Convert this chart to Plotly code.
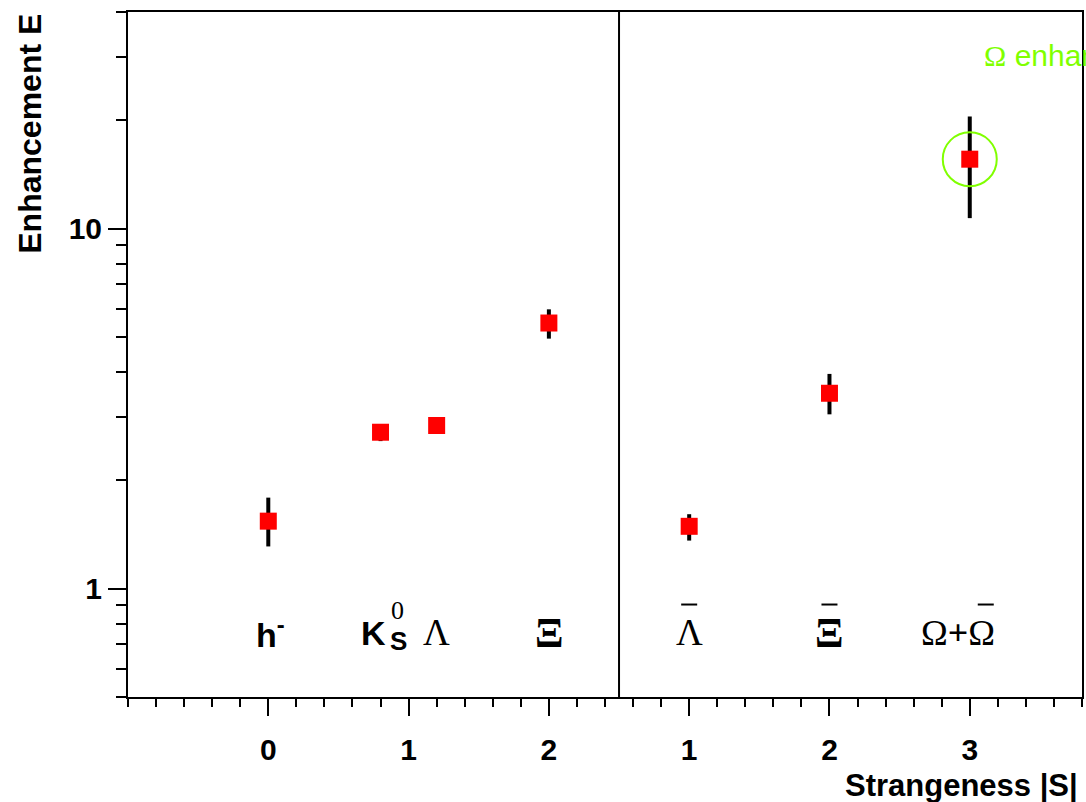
import plotly.graph_objects as go
import math

# ---- data ----
particles = ["h-", "K0s", "Lambda", "Xi", "anti-Lambda", "anti-Xi", "Omega+anti-Omega"]
x_pos = [0, 0.8, 1.2, 2, 3, 4, 5]
enhancement = [1.54, 2.72, 2.84, 5.47, 1.49, 3.49, 15.6]
err_plus = [0.25, 0.12, 0.08, 0.50, 0.12, 0.46, 4.9]
err_minus = [0.23, 0.15, 0.08, 0.52, 0.13, 0.44, 4.9]
highlight_idx = 6  # Omega point circled

tick_vals = [-1, 0, 1, 2, 3, 4, 5]
tick_text = ["", "0", "1", "2", "1", "2", "3"]

SANS = "Liberation Sans, Arial, sans-serif"
SERIF = "Liberation Serif, Times New Roman, serif"
GREEN = "#80ff00"

fig = go.Figure()
fig.add_trace(go.Scatter(
    x=x_pos, y=enhancement, mode="markers",
    marker=dict(symbol="square", size=17, color="#ff0000", line=dict(width=0)),
    error_y=dict(type="data", array=err_plus, arrayminus=err_minus,
                 thickness=4, width=0, color="black"),
    showlegend=False,
))
# green open circle around Omega point
fig.add_trace(go.Scatter(
    x=[x_pos[highlight_idx]], y=[enhancement[highlight_idx]], mode="markers",
    marker=dict(symbol="circle-open", size=54, color=GREEN, line=dict(color=GREEN, width=2)),
    showlegend=False,
))

# divider between particles and antiparticles
fig.add_shape(type="line", xref="x", yref="paper", x0=2.5, x1=2.5, y0=0, y1=1,
              line=dict(color="black", width=2))

# overlines for antiparticle labels
for xa, dx in [(3, 0), (4, 0), (5, 16)]:
    fig.add_shape(type="line", xref="x", yref="paper", xsizemode="pixel",
                  xanchor=xa, x0=dx - 8, x1=dx + 8, y0=0.135, y1=0.135,
                  line=dict(color="black", width=2))

ann = []
ylab = -0.122

def lab(text, x, font, xanchor="center", xshift=0, yshift=0):
    ann.append(dict(text=text, x=x, y=ylab, xref="x", yref="y", showarrow=False,
                    xanchor=xanchor, yanchor="middle", xshift=xshift, yshift=yshift,
                    font=font))

lab("<b>h<sup>-</sup></b>", 0, dict(family=SANS, size=34, color="black"), xshift=2)
lab("<b>K</b>", 0.8, dict(family=SANS, size=34, color="black"), xanchor="right", xshift=7)
lab("0", 0.8, dict(family=SERIF, size=26, color="black"), xanchor="left", xshift=8, yshift=22)
lab("<b>S</b>", 0.8, dict(family=SANS, size=26, color="black"), xanchor="left", xshift=7, yshift=-8)
lab("Λ", 1.2, dict(family=SERIF, size=37, color="black"))
lab("\u039E", 2, dict(family=SERIF, size=42, color="black", weight="bold"))
lab("Λ", 3, dict(family=SERIF, size=37, color="black"))
lab("\u039E", 4, dict(family=SERIF, size=42, color="black", weight="bold"))
lab("Ω<b>+</b>Ω", 5, dict(family=SERIF, size=36, color="black"), xshift=-12)

ann.append(dict(text="<span style='font-family:Liberation Serif'>Ω</span> enhancement",
                x=5.09, y=1.48, xref="x", yref="y", showarrow=False,
                xanchor="left", yanchor="middle", font=dict(family=SANS, size=30, color=GREEN)))

ann.append(dict(text="<b>Enhancement E</b>", textangle=-90, x=-0.103, y=1, xref="paper",
                yref="paper", showarrow=False, xanchor="center", yanchor="top",
                font=dict(family=SANS, size=32, color="black")))
ann.append(dict(text="<b>Strangeness |S|</b>", x=1, y=0, xref="paper", yref="paper",
                showarrow=False, xanchor="right", yanchor="middle", yshift=-88, xshift=-2,
                font=dict(family=SANS, size=31, color="black")))

fig.update_layout(
    width=1086, height=802,
    margin=dict(l=128, r=2, t=12, b=105),
    paper_bgcolor="white", plot_bgcolor="white",
    annotations=ann,
    xaxis=dict(range=[-1, 5.8], tickvals=tick_vals, ticktext=tick_text,
               ticks="outside", ticklen=17, tickwidth=2, tickcolor="black",
               showline=True, linecolor="black", linewidth=2, mirror=True,
               showgrid=False, zeroline=False, ticklabelstandoff=8,
               tickfont=dict(family=SANS, size=30, color="black", weight="bold"),
               minor=dict(tickvals=[round(-1 + 0.2 * i, 1) for i in range(35)],
                          ticks="outside", ticklen=8, tickwidth=2, tickcolor="black",
                          showgrid=False)),
    yaxis=dict(type="log", range=[math.log10(0.5), math.log10(40)],
               tickvals=[1, 10], ticktext=["1", "10"],
               ticks="outside", ticklen=18, tickwidth=2, tickcolor="black",
               showline=True, linecolor="black", linewidth=2, mirror=True,
               showgrid=False, zeroline=False,
               tickfont=dict(family=SANS, size=30, color="black", weight="bold"),
               minor=dict(tickvals=[0.5, 0.6, 0.7, 0.8, 0.9, 2, 3, 4, 5, 6, 7, 8, 9, 20, 30, 40],
                          ticks="outside", ticklen=10, tickwidth=2, tickcolor="black",
                          showgrid=False)),
)

fig.write_html("out.html")
